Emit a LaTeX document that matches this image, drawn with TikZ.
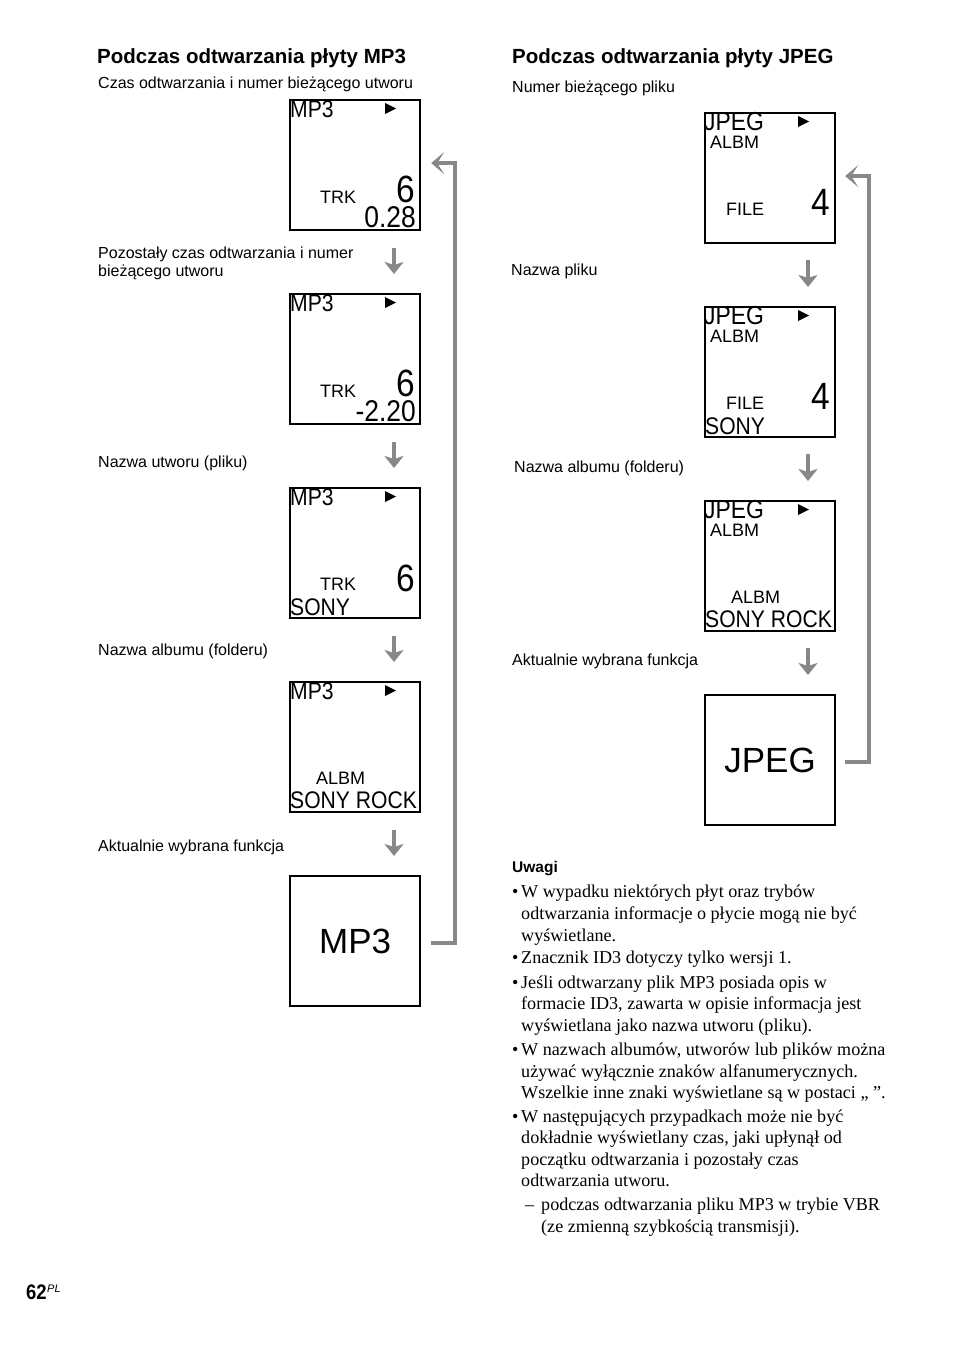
\documentclass[tikz,border=0pt]{standalone}
\usepackage{fontspec}
\setmainfont{Liberation Sans}
\newfontfamily\lcdfont[FakeStretch=0.88]{Liberation Sans}
\newfontfamily\serif{Liberation Serif}
\usetikzlibrary{calc,arrows.meta}
\definecolor{arrowgray}{HTML}{888888}
\tikzset{
  lbl/.style={anchor=base west, inner sep=0, font=\fontsize{16}{19}\selectfont},
  hd/.style={anchor=base west, inner sep=0, font=\bfseries\fontsize{20.5}{24}\selectfont},
  lcd/.style={draw, line width=2.2pt, minimum size=130pt, inner sep=0, anchor=north west},
  big/.style={anchor=base west, inner sep=0, font=\lcdfont\fontsize{24}{24}\selectfont},
  bigj/.style={anchor=base west, inner sep=0, font=\lcdfont\fontsize{26}{26}\selectfont},
  bigr/.style={anchor=base east, inner sep=0, font=\lcdfont\fontsize{30}{30}\selectfont},
  digit/.style={anchor=base east, inner sep=0, font=\lcdfont\fontsize{38}{38}\selectfont},
  small/.style={anchor=base west, inner sep=0, font=\fontsize{18}{18}\selectfont},
  fn/.style={inner sep=0, font=\fontsize{35}{35}\selectfont},
  dn/.style={draw=arrowgray, line width=4.5pt, -{Stealth[length=12pt,width=19pt,inset=3pt]}, color=arrowgray},
  ret/.style={draw=arrowgray, line width=4pt, -{Stealth[length=13pt,width=22pt,inset=7pt]}, color=arrowgray},
  note/.style={anchor=base west, inner sep=0, font=\serif\fontsize{18.1}{21}\selectfont},
}
\newcommand{\playtri}[1]{\fill ($(#1.north west)+(96,4)$) -- ++(11,5.5) -- ++(-11,5.5) -- cycle;}
\newcommand{\playtrj}[1]{\fill ($(#1.north west)+(94,4)$) -- ++(11,5.5) -- ++(-11,5.5) -- cycle;}
\begin{document}
\begin{tikzpicture}[x=1pt,y=-1pt]
\useasboundingbox (0,0) rectangle (954,1352);
\fill[white] (0,0) rectangle (954,1352);

% ---------- left column ----------
\node[hd] (h1) at (97,63) {Podczas odtwarzania płyty MP3};
\node[lbl] (l1) at (98,88) {Czas odtwarzania i numer bieżącego utworu};
\node[lbl] (l2) at (98,258) {Pozostały czas odtwarzania i numer};
\node[lbl] (l2b) at (98,276) {bieżącego utworu};
\node[lbl] (l3) at (98,467) {Nazwa utworu (pliku)};
\node[lbl] (l4) at (98,655) {Nazwa albumu (folderu)};
\node[lbl] (l5) at (98,851) {Aktualnie wybrana funkcja};

\node[lcd] (b1) at (289,99) {};
\node[lcd] (b2) at (289,293) {};
\node[lcd] (b3) at (289,487) {};
\node[lcd] (b4) at (289,681) {};
\node[lcd] (b5) at (289,875) {};

% box 1
\node[big] (b1t) at ($(b1.north west)+(1,18)$) {MP3};
\playtri{b1}
\node[small] (b1k) at ($(b1.north west)+(31,104)$) {TRK};
\node[digit] (b1d) at ($(b1.north west)+(126,103)$) {6};
\node[bigr] (b1n) at ($(b1.north west)+(127,128)$) {0.28};
% box 2
\node[big] (b2t) at ($(b2.north west)+(1,18)$) {MP3};
\playtri{b2}
\node[small] (b2k) at ($(b2.north west)+(31,104)$) {TRK};
\node[digit] (b2d) at ($(b2.north west)+(126,103)$) {6};
\node[bigr] (b2n) at ($(b2.north west)+(127,128)$) {-2.20};
% box 3
\node[big] (b3t) at ($(b3.north west)+(1,18)$) {MP3};
\playtri{b3}
\node[small] (b3k) at ($(b3.north west)+(31,103)$) {TRK};
\node[digit] (b3d) at ($(b3.north west)+(126,104)$) {6};
\node[big] (b3s) at ($(b3.north west)+(1,128)$) {SONY};
% box 4
\node[big] (b4t) at ($(b4.north west)+(1,18)$) {MP3};
\playtri{b4}
\node[small] (b4k) at ($(b4.north west)+(27,103)$) {ALBM};
\node[big] (b4s) at ($(b4.north west)+(1,127)$) {SONY ROCK};
% box 5
\node[fn] (b5t) at (b5.center) {MP3};

% down arrows left
\coordinate (la1) at (394,248); \coordinate (la1e) at (394,274);
\coordinate (la2) at (394,442); \coordinate (la2e) at (394,468);
\coordinate (la3) at (394,636); \coordinate (la3e) at (394,662);
\coordinate (la4) at (394,830); \coordinate (la4e) at (394,856);
\draw[dn] (la1) -- (la1e);
\draw[dn] (la2) -- (la2e);
\draw[dn] (la3) -- (la3e);
\draw[dn] (la4) -- (la4e);

% return arrow left
\draw[ret] ($(b5.east)+(10,2)$) -- ++(24,0) |- ($(b1.east)+(10,-2)$);

% ---------- right column ----------
\node[hd] (h2) at (512,63) {Podczas odtwarzania płyty JPEG};
\node[lbl] (r1) at (512,92) {Numer bieżącego pliku};
\node[lbl] (r2) at (511,275) {Nazwa pliku};
\node[lbl] (r3) at (514,472) {Nazwa albumu (folderu)};
\node[lbl] (r4) at (512,665) {Aktualnie wybrana funkcja};

\node[lcd] (j1) at (704,112) {};
\node[lcd] (j2) at (704,306) {};
\node[lcd] (j3) at (704,500) {};
\node[lcd] (j4) at (704,694) {};

% jpeg box 1
\node[bigj] (j1t) at ($(j1.north west)+(0,18)$) {JPEG};
\playtrj{j1}
\node[small] (j1a) at ($(j1.north west)+(6,36)$) {ALBM};
\node[small] (j1f) at ($(j1.north west)+(22,103)$) {FILE};
\node[digit] (j1d) at ($(j1.north west)+(126,103)$) {4};
% jpeg box 2
\node[bigj] (j2t) at ($(j2.north west)+(0,18)$) {JPEG};
\playtrj{j2}
\node[small] (j2a) at ($(j2.north west)+(6,36)$) {ALBM};
\node[small] (j2f) at ($(j2.north west)+(22,103)$) {FILE};
\node[digit] (j2d) at ($(j2.north west)+(126,103)$) {4};
\node[big] (j2s) at ($(j2.north west)+(1,128)$) {SONY};
% jpeg box 3
\node[bigj] (j3t) at ($(j3.north west)+(0,18)$) {JPEG};
\playtrj{j3}
\node[small] (j3a) at ($(j3.north west)+(6,36)$) {ALBM};
\node[small] (j3b) at ($(j3.north west)+(27,103)$) {ALBM};
\node[big] (j3s) at ($(j3.north west)+(1,127)$) {SONY ROCK};
% jpeg box 4
\node[fn] (j4t) at (j4.center) {JPEG};

% down arrows right
\coordinate (ra1) at (808,260); \coordinate (ra1e) at (808,287);
\coordinate (ra2) at (808,454); \coordinate (ra2e) at (808,481);
\coordinate (ra3) at (808,648); \coordinate (ra3e) at (808,675);
\draw[dn] (ra1) -- (ra1e);
\draw[dn] (ra2) -- (ra2e);
\draw[dn] (ra3) -- (ra3e);

% return arrow right
\draw[ret] ($(j4.east)+(9,2)$) -- ++(24,0) |- ($(j1.east)+(9,-2)$);

% ---------- notes ----------
\node[anchor=base west, inner sep=0, font=\bfseries\fontsize{15.5}{18}\selectfont] (uw) at (512,872) {Uwagi};
\node[note] (bu1) at (512,897) {•};
\node[note] (n1) at (521,897) {W wypadku niektórych płyt oraz trybów};
\node[note] (n2) at (521,919) {odtwarzania informacje o płycie mogą nie być};
\node[note] (n3) at (521,941) {wyświetlane.};
\node[note] (bu2) at (512,963) {•};
\node[note] (n4) at (521,963) {Znacznik ID3 dotyczy tylko wersji 1.};
\node[note] (bu3) at (512,988) {•};
\node[note] (n5) at (521,988) {Jeśli odtwarzany plik MP3 posiada opis w};
\node[note] (n6) at (521,1009) {formacie ID3, zawarta w opisie informacja jest};
\node[note] (n7) at (521,1031) {wyświetlana jako nazwa utworu (pliku).};
\node[note] (bu4) at (512,1055) {•};
\node[note] (n8) at (521,1055) {W nazwach albumów, utworów lub plików można};
\node[note] (n9) at (521,1077) {używać wyłącznie znaków alfanumerycznych.};
\node[note] (n10) at (521,1098) {Wszelkie inne znaki wyświetlane są w postaci „ ”.};
\node[note] (bu5) at (512,1122) {•};
\node[note] (n11) at (521,1122) {W następujących przypadkach może nie być};
\node[note] (n12) at (521,1143) {dokładnie wyświetlany czas, jaki upłynął od};
\node[note] (n13) at (521,1165) {początku odtwarzania i pozostały czas};
\node[note] (n14) at (521,1186) {odtwarzania utworu.};
\node[note] (da) at (525,1210) {–};
\node[note] (n15) at (541,1210) {podczas odtwarzania pliku MP3 w trybie VBR};
\node[note] (n16) at (541,1232) {(ze zmienną szybkością transmisji).};

% page number
\node[anchor=base west, inner sep=0, font=\lcdfont\bfseries\fontsize{21}{21}\selectfont] (pg) at (26,1299) {62};
\node[anchor=base west, inner sep=0, font=\itshape\fontsize{11}{11}\selectfont] (pl) at (47,1292) {PL};
\end{tikzpicture}
\end{document}
